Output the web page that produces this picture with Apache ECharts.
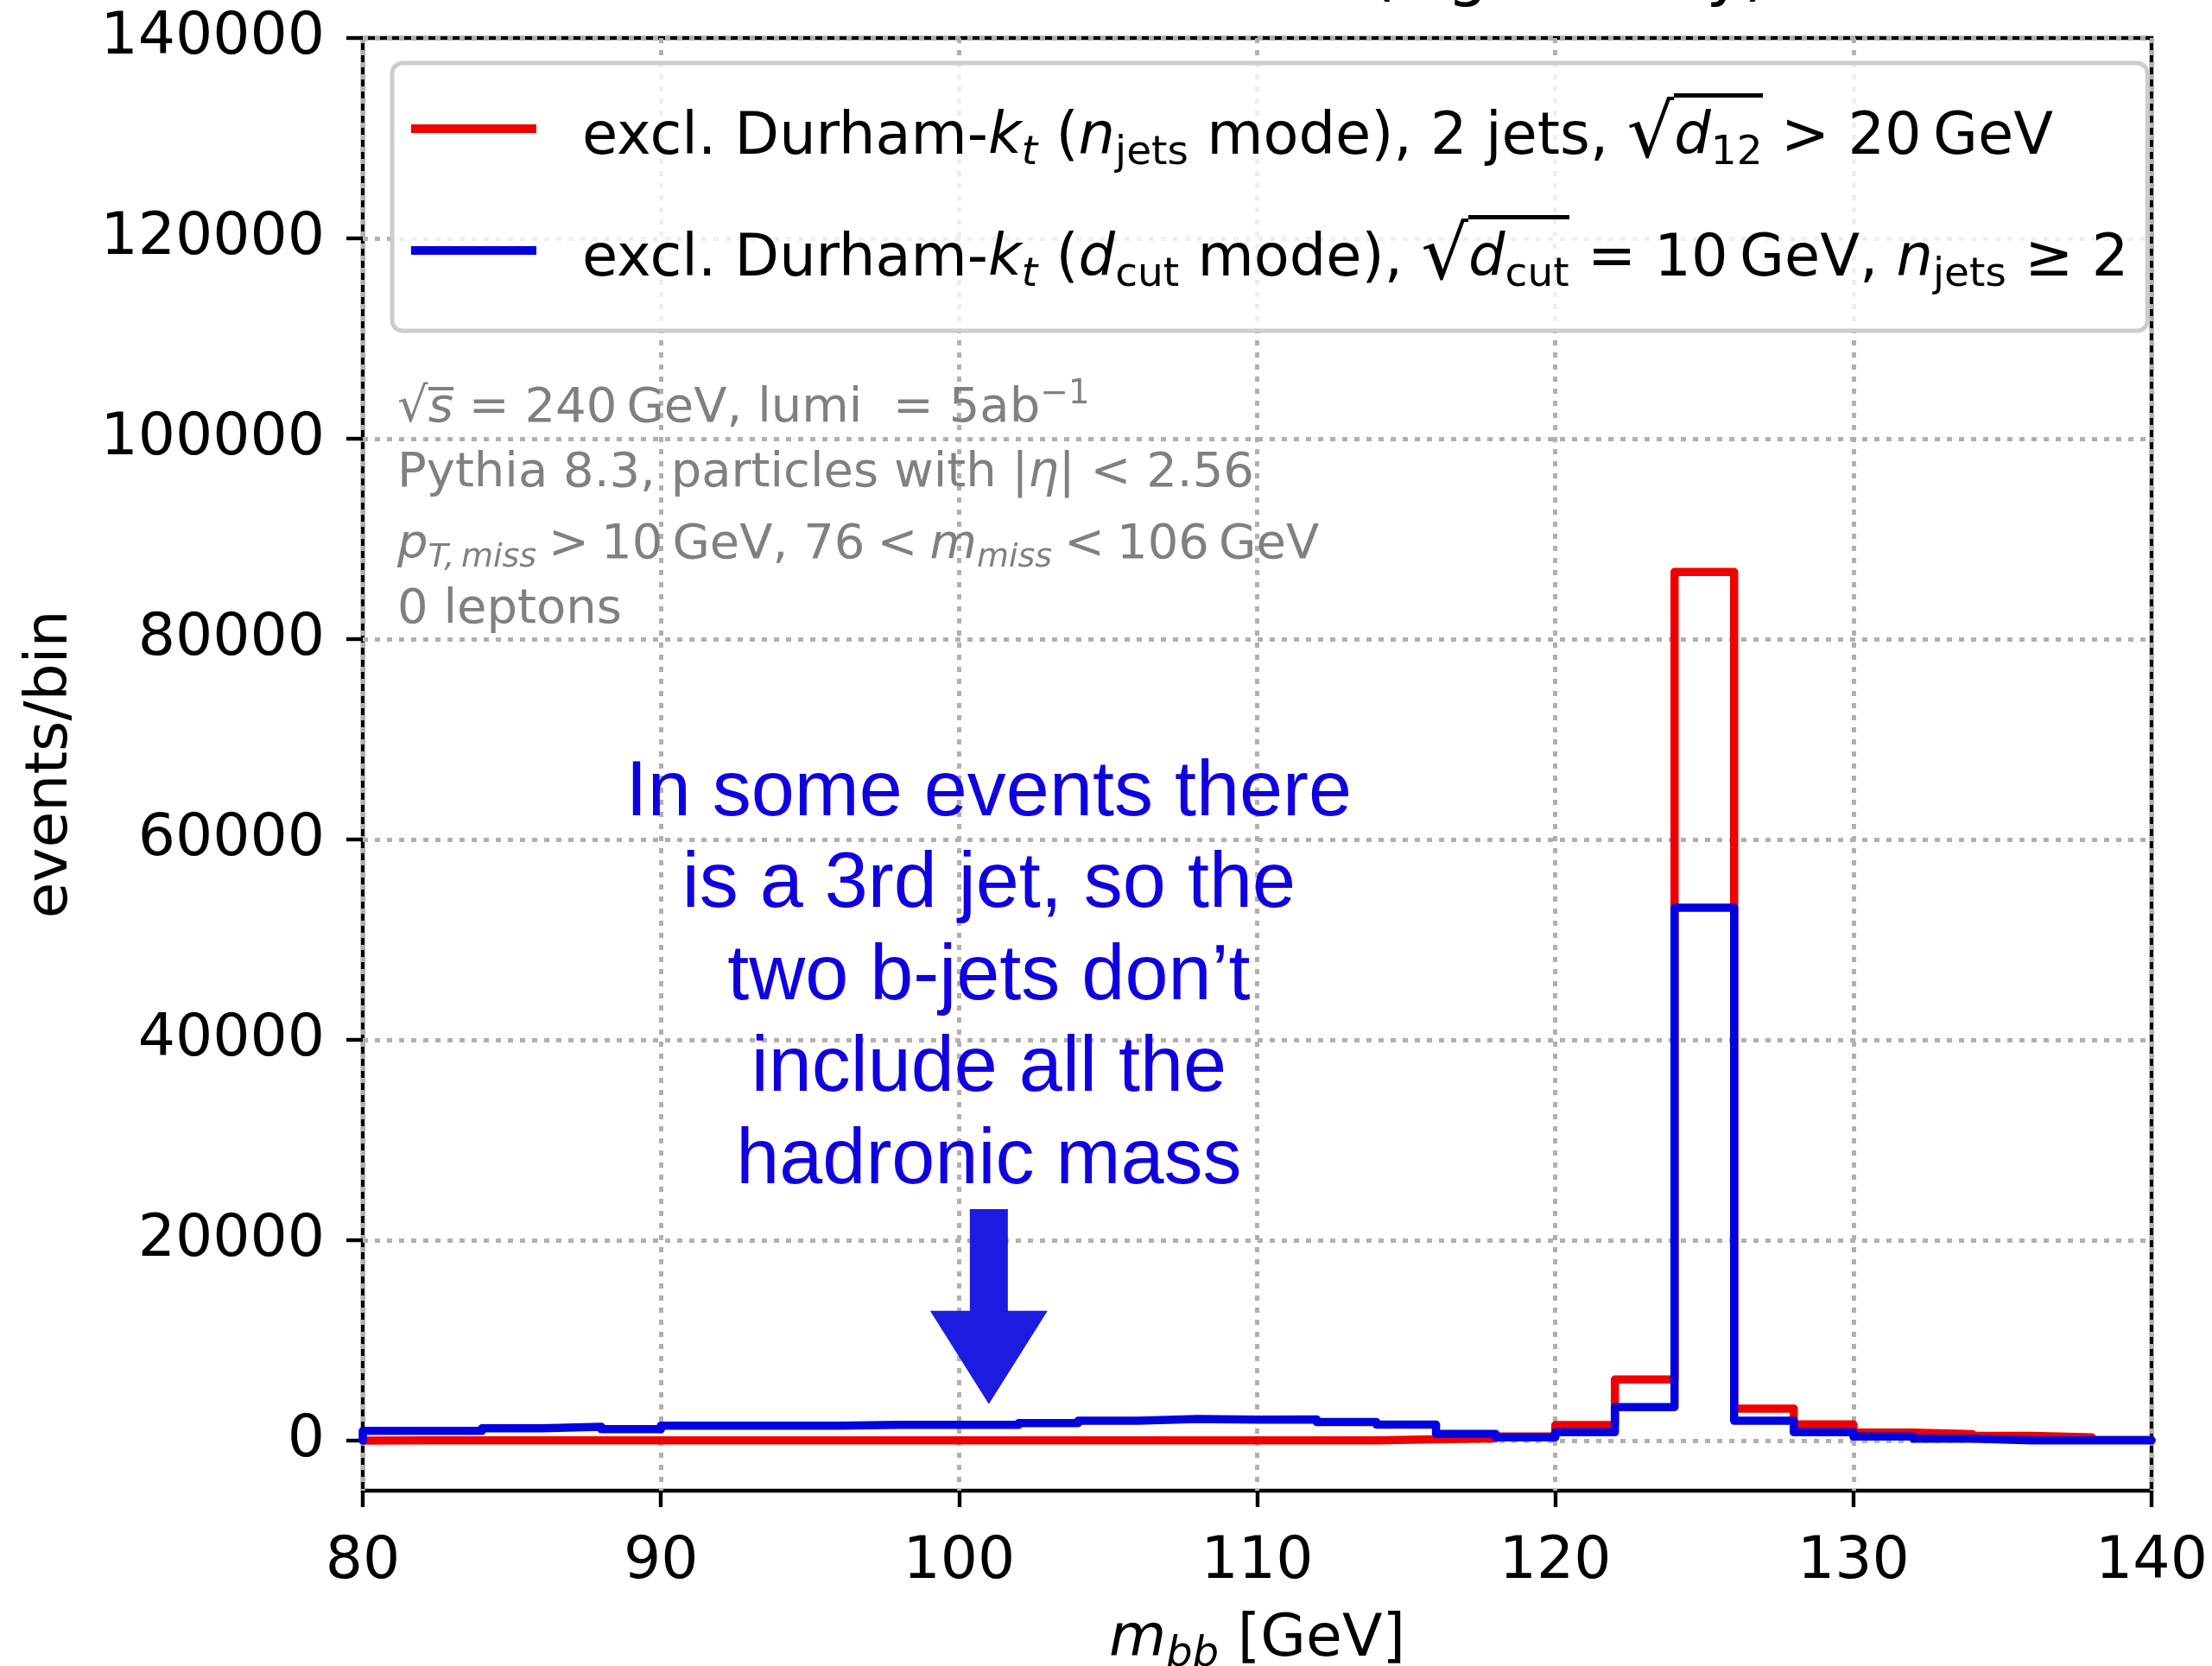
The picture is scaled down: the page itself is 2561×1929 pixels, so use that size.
<!DOCTYPE html>
<html style="height: 100%">
<head>
<meta charset="utf-8">
<title>m_bb histogram</title>
<script src="https://cdn.jsdelivr.net/npm/echarts@6/dist/echarts.min.js"></script>
</head>
<body style="height: 100%; width: 100%; margin: 0; background: #fff">
<div id="container" style="width: 2561px; height: 1929px"></div>
<script type="text/javascript">

// 2 GeV bins from 80 to 140 GeV
var binEdges = [80, 82, 84, 86, 88, 90, 92, 94, 96, 98, 100, 102, 104, 106, 108, 110,
                112, 114, 116, 118, 120, 122, 124, 126, 128, 130, 132, 134, 136, 138, 140];
// excl. Durham-kt, n_jets mode
var redCounts = [20, 20, 20, 20, 20, 20, 20, 20, 20, 20, 20, 20, 20, 20, 20,
                 20, 20, 130, 220, 420, 1550, 6100, 86700, 3200, 1610, 790, 650, 475, 330, 60];
// excl. Durham-kt, d_cut mode
var blueCounts = [960, 960, 1234, 1378, 1134, 1492, 1492, 1492, 1564, 1564, 1564, 1750, 1980, 2150, 2080,
                  2110, 1850, 1590, 675, 330, 830, 3340, 53200, 1980, 830, 400, 200, 30, 20, 20];
var yTicks = [0, 20000, 40000, 60000, 80000, 100000, 120000, 140000];
// arrow: x, tip y, tail y
var arrowPoint = [101, 3650, 23100];

var redName = 'excl. Durham-kt (njets mode), 2 jets, sqrt(d12) > 20 GeV';
var blueName = 'excl. Durham-kt (dcut mode), sqrt(dcut) = 10 GeV, njets >= 2';
var noteBlue = ['In some events there', 'is a 3rd jet, so the', 'two b-jets don\u2019t',
                'include all the', 'hadronic mass'];

var gridLeft = 420, gridRight = 70, gridTop = 44, gridBottom = 203;
var font = 'DejaVu Sans';

function stepPoints(counts) {
  var pts = [[binEdges[0], 0]];
  for (var i = 0; i < counts.length; i++) pts.push([binEdges[i], counts[i]]);
  pts.push([binEdges[counts.length], counts[counts.length - 1]]);
  pts.push([binEdges[counts.length], 0]);
  return pts;
}

// rich token: all tokens top-aligned in a box of height boxH, baseline at base
function tok(size, shift, boxH, base, extra) {
  var top = Math.round(base + shift - 0.846 * size);
  var s = {fontSize: size, lineHeight: size, fontFamily: font, verticalAlign: 'top',
           padding: [top, 0, boxH - size - top, 0]};
  for (var k in extra) s[k] = extra[k];
  return s;
}

function overline(h, y0, y1, color) {
  var c = document.createElement('canvas');
  c.width = 4; c.height = h;
  var g = c.getContext('2d');
  g.fillStyle = color;
  g.fillRect(0, y0, 4, y1 - y0);
  return c;
}

var legOver = overline(110, 2, 7, '#000');
var legendRich = {
  r0: tok(67, 0, 110, 78, {color: '#000', padding: [21, 0, 22, 48]}),
  r: tok(67, 0, 110, 78, {color: '#000'}),
  it: tok(67, 0, 110, 78, {color: '#000', fontStyle: 'italic'}),
  sb: tok(47, 10, 110, 78, {color: '#000'}),
  sbi: tok(47, 10, 110, 78, {color: '#000', fontStyle: 'italic'}),
  rad: tok(86, 6, 110, 78, {color: '#000'}),
  ovi: tok(67, 0, 110, 78, {color: '#000', fontStyle: 'italic', backgroundColor: {image: legOver}}),
  ovs: tok(47, 10, 110, 78, {color: '#000', backgroundColor: {image: legOver}})
};
var legendText = {};
legendText[redName] = '{r0|excl. Durham-}{it|k}{sbi|t}{r| (}{it|n}{sb|jets}{r| mode), 2 jets, }' +
  '{rad|\u221a}{ovi|d}{ovs|12}{r| > 20\u2009GeV}';
legendText[blueName] = '{r0|excl. Durham-}{it|k}{sbi|t}{r| (}{it|d}{sb|cut}{r| mode), }' +
  '{rad|\u221a}{ovi|d}{ovs|cut}{r| = 10\u2009GeV, }{it|n}{sb|jets}{r| \u2265 2}';

var grey = '#808080';
var noteOver = overline(80, 16, 20, grey);
var noteRich = {
  r: tok(56, 0, 80, 60, {fill: grey}),
  it: tok(56, 0, 80, 60, {fill: grey, fontStyle: 'italic'}),
  sbi: tok(38, 9, 80, 60, {fill: grey, fontStyle: 'italic'}),
  sup: tok(39, -22, 80, 60, {fill: grey}),
  rad: tok(56, 0, 80, 60, {fill: grey}),
  ovi: tok(56, 0, 80, 60, {fill: grey, fontStyle: 'italic', backgroundColor: {image: noteOver}})
};
var noteGrey = [
  '{rad|\u221a}{ovi|s}{r| = 240\u2009GeV, lumi  = 5ab}{sup|\u22121}',
  '{r|Pythia 8.3, particles with |}{it|\u03b7}{r|| < 2.56}',
  '{it|p}{sbi|T,\u2009miss}{r|\u2005>\u200510\u2009GeV, 76\u2005<\u2005}{it|m}{sbi|miss}{r|\u2005<\u2005106\u2009GeV}',
  '{r|0 leptons}'
];
var noteBaselines = [492, 567, 650, 725];

var graphics = [{
  type: 'text', x: 1586, y: 10,
  style: {text: '(signal only)', fontSize: 75, fontFamily: font, fill: '#000', verticalAlign: 'bottom'}
}];
noteGrey.forEach(function (t, i) {
  graphics.push({
    type: 'text', x: gridLeft + 40, y: noteBaselines[i] - 60, z: 10,
    style: {text: t, rich: noteRich, fontSize: 56, fontFamily: font, fill: grey, verticalAlign: 'top'}
  });
});

var gridLine = {show: true, lineStyle: {color: '#b0b0b0', width: 5, type: [6, 8]}};
var tickStyle = {show: true, inside: false, length: 19, lineStyle: {color: '#000', width: 4.4}};
var labelStyle = {fontSize: 68, fontFamily: font, color: '#000'};

var chart = echarts.init(document.getElementById('container'));
var option = {
  animation: false,
  backgroundColor: '#fff',
  grid: {left: gridLeft, right: gridRight, top: gridTop, bottom: gridBottom,
         containLabel: false, outerBoundsMode: 'none',
         show: true, borderColor: '#000', borderWidth: 4.4},
  xAxis: {
    type: 'value', min: 80, max: 140, interval: 10,
    axisLine: {show: false, onZero: false},
    axisTick: tickStyle,
    axisLabel: Object.assign({margin: 49, showMinLabel: true, showMaxLabel: true}, labelStyle),
    splitLine: gridLine,
    name: '{i|m}{s|bb}{r| [GeV]}', nameLocation: 'middle', nameGap: 127,
    nameTextStyle: {rich: {
      i: tok(68, 0, 100, 70, {color: '#000', fontStyle: 'italic'}),
      s: tok(48, 11, 100, 70, {color: '#000', fontStyle: 'italic'}),
      r: tok(68, 0, 100, 70, {color: '#000'})
    }}
  },
  yAxis: {
    type: 'value', min: -5000, max: 140000, splitNumber: 7,
    axisLine: {show: false},
    axisTick: Object.assign({customValues: yTicks}, tickStyle),
    axisLabel: Object.assign({customValues: yTicks, margin: 44,
                              formatter: function (v) { return String(v); }}, labelStyle),
    splitLine: gridLine,
    name: 'events/bin', nameLocation: 'middle', nameGap: 327,
    nameTextStyle: {fontSize: 68, fontFamily: font, color: '#000'}
  },
  legend: {
    data: [redName, blueName], orient: 'vertical', left: 454, top: 73,
    padding: [33, 22, 26, 22], itemGap: 31, itemWidth: 145, itemHeight: 10, icon: 'rect',
    backgroundColor: 'rgba(255,255,255,0.8)', borderColor: '#cccccc', borderWidth: 5, borderRadius: 12,
    selectedMode: false,
    formatter: function (name) { return legendText[name]; },
    textStyle: {fontSize: 67, fontFamily: font, color: '#000', rich: legendRich}
  },
  graphic: graphics,
  series: [{
    name: redName, type: 'line', step: 'end', symbol: 'none', data: stepPoints(redCounts),
    color: '#f00000', itemStyle: {color: '#f00000'},
    lineStyle: {color: '#f00000', width: 9.5, cap: 'round', join: 'round'}
  }, {
    name: blueName, type: 'line', step: 'end', symbol: 'none', data: stepPoints(blueCounts),
    color: '#0000e0', itemStyle: {color: '#0000e0'},
    lineStyle: {color: '#0000e0', width: 9.5, cap: 'round', join: 'round'}
  }, {
    type: 'custom', data: [arrowPoint], encode: {x: 0, y: [1, 2]}, z: 5,
    renderItem: function (params, api) {
      var tip = api.coord([api.value(0), api.value(1)]);
      var tail = api.coord([api.value(0), api.value(2)]);
      var cx = tip[0], neck = tip[1] - 108;
      return {type: 'group', children: [{
        type: 'polygon',
        shape: {points: [[cx - 22, tail[1]], [cx + 22, tail[1]], [cx + 22, neck], [cx + 68, neck],
                         tip, [cx - 68, neck], [cx - 22, neck]]},
        style: {fill: '#1c1ce0'}
      }, {
        type: 'text', x: cx, y: tail[1] - 2,
        style: {text: noteBlue.join('\n'), fill: '#1000e0', fontSize: 90, fontFamily: 'Liberation Sans',
                lineHeight: 106.5, align: 'center', verticalAlign: 'bottom'}
      }]};
    }
  }]
};
chart.setOption(option);
</script>
</body>
</html>
